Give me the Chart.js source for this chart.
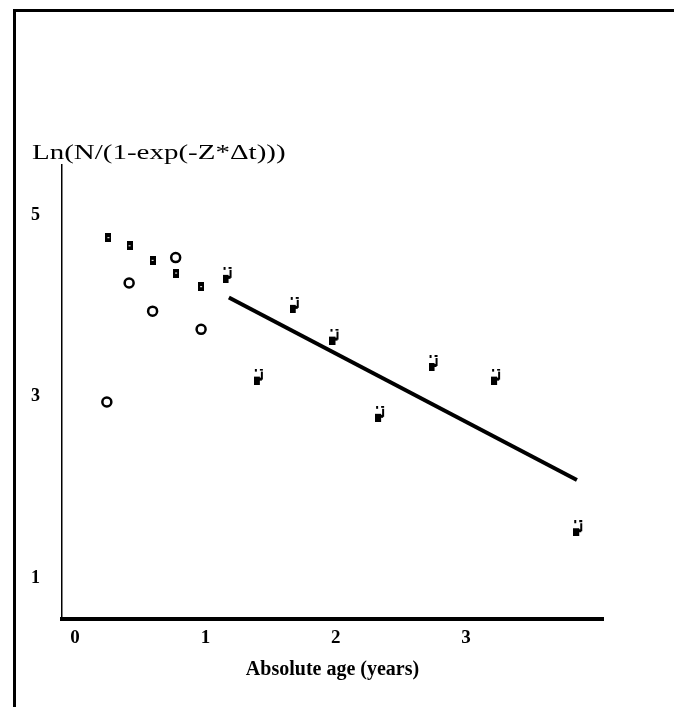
<!DOCTYPE html>
<html>
<head>
<meta charset="utf-8">
<script src="https://cdn.jsdelivr.net/npm/chart.js@4"></script>
<style>
  html, body { margin: 0; padding: 0; background: #fff; overflow: hidden; }
  #wrap { position: relative; width: 674px; height: 707px; }
  .frame { position: absolute; left: 13px; top: 9px; right: -10px; bottom: -10px;
           border-left: 3px solid #000; border-top: 3px solid #000; pointer-events: none; }
</style>
</head>
<body>
<div id="wrap">
  <canvas id="chart" width="674" height="707"></canvas>
  <div class="frame"></div>
</div>
<script>
// filled markers (observed, early ages)
const filledX = [0.256, 0.418, 0.595, 0.775, 0.967];
const filledY = [4.75, 4.66, 4.50, 4.36, 4.21];

// open circles
const openX = [0.244, 0.415, 0.595, 0.772, 0.967];
const openY = [2.94, 4.25, 3.94, 4.53, 3.74];

// hook-shaped markers (older ages)
const hookX = [1.17, 1.41, 1.685, 1.99, 2.34, 2.75, 3.23, 3.86];
const hookY = [4.34, 3.22, 4.01, 3.66, 2.81, 3.37, 3.22, 1.55];

// fitted regression line
const fitX = [1.18, 3.85];
const fitY = [4.09, 2.08];

const xTicks = [0, 1, 2, 3];
const yTicks = [1, 3, 5];

const yTitle = 'Ln(N/(1-exp(-Z*\u0394t)))';
const xTitle = 'Absolute age (years)';

const pts = (xs, ys) => xs.map((x, i) => ({ x: x, y: ys[i] }));

// small marker glyphs
function makeMarker(w, h, draw) {
    const c = document.createElement('canvas');
    c.width = w; c.height = h;
    const g = c.getContext('2d');
    g.fillStyle = '#000';
    draw(g);
    return c;
}
const filledMarker = makeMarker(6, 9, g => {
    g.fillRect(0, 0, 6, 9);
    g.clearRect(2, 4, 2, 1);
});
const hookMarker = makeMarker(10, 16, g => {
    g.fillRect(1, 0, 2, 3);
    g.fillRect(6, 0, 3, 2);
    g.fillRect(7, 3, 2, 8);
    g.fillRect(0, 8, 6, 8);
    g.fillRect(5, 9, 3, 3);
});

const yTitlePlugin = {
    id: 'yTitle',
    afterDraw(chart) {
        const ctx = chart.ctx;
        ctx.save();
        ctx.fillStyle = '#000';
        ctx.font = '21px "Liberation Serif", serif';
        ctx.textBaseline = 'middle';
        ctx.textAlign = 'left';
        ctx.translate(32, 153);
        ctx.scale(1.38, 1);
        ctx.fillText(yTitle, 0, 0);
        ctx.restore();
    }
};

const serif = '"Liberation Serif", serif';

new Chart(document.getElementById('chart').getContext('2d'), {
    type: 'scatter',
    data: {
        datasets: [
            {
                label: 'fit',
                type: 'line',
                data: pts(fitX, fitY),
                borderColor: '#000',
                borderWidth: 4,
                pointRadius: 0,
                fill: false,
                tension: 0
            },
            {
                label: 'filled',
                data: pts(filledX, filledY),
                pointStyle: filledMarker
            },
            {
                label: 'open',
                data: pts(openX, openY),
                pointStyle: 'circle',
                pointRadius: 4.5,
                borderWidth: 2.5,
                borderColor: '#000',
                backgroundColor: '#fff'
            },
            {
                label: 'hook',
                data: pts(hookX, hookY),
                pointStyle: hookMarker
            }
        ]
    },
    options: {
        responsive: false,
        animation: false,
        layout: { padding: { top: 165, right: 71, left: 0, bottom: 25 } },
        plugins: {
            legend: { display: false },
            tooltip: { enabled: false }
        },
        scales: {
            x: {
                type: 'linear',
                min: -0.1,
                max: 4.05,
                afterFit: s => { s.height = 63; },
                afterBuildTicks: s => { s.ticks = xTicks.map(v => ({ value: v })); },
                grid: { display: false },
                border: { display: true, color: '#000', width: 4 },
                ticks: {
                    color: '#000',
                    padding: 0,
                    font: { family: serif, size: 19, weight: 'bold' }
                },
                title: {
                    display: true,
                    text: xTitle,
                    color: '#000',
                    padding: { top: 4, bottom: 0 },
                    font: { family: serif, size: 20, weight: 'bold' }
                }
            },
            y: {
                type: 'linear',
                min: 0.55,
                max: 5.55,
                afterFit: s => { s.width = 62; },
                afterBuildTicks: s => { s.ticks = yTicks.map(v => ({ value: v })); },
                grid: { display: false },
                border: { display: true, color: '#000', width: 1.5 },
                ticks: {
                    color: '#000',
                    padding: 14,
                    font: { family: serif, size: 18, weight: 'bold' }
                }
            }
        }
    },
    plugins: [yTitlePlugin]
});
</script>
</body>
</html>
